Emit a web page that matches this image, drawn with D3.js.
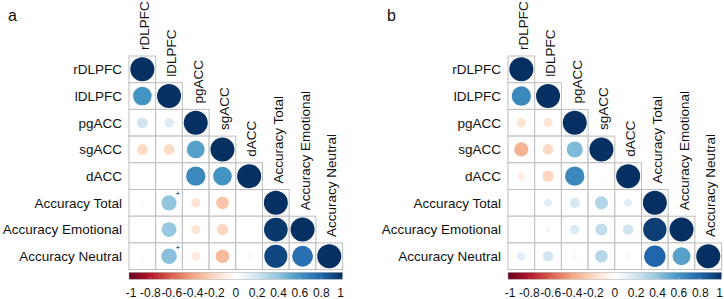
<!DOCTYPE html>
<html>
<head>
<meta charset="utf-8">
<script src="https://cdn.jsdelivr.net/npm/d3@7"></script>
<style>
  body { margin: 0; background: #fff; }
  svg { display: block; font-family: "Liberation Sans", Arial, sans-serif; }
</style>
</head>
<body>
<div id="chart"></div>
<script>
const variables = ["rDLPFC", "lDLPFC", "pgACC", "sgACC", "dACC", "Accuracy Total", "Accuracy Emotional", "Accuracy Neutral"];

// lower triangle, row by row (diagonal included)
const corrA = [
  [1],
  [0.6, 1],
  [0.2, 0.15, 1],
  [-0.2, -0.2, 0.55, 1],
  [0.02, 0.02, 0.65, 0.6, 1],
  [0.03, 0.4, -0.15, -0.28, 0.02, 1],
  [0.02, 0.38, -0.15, -0.22, 0, 0.97, 1],
  [0.03, 0.42, -0.13, -0.32, -0.04, 0.92, 0.75, 1]
];
const corrB = [
  [1],
  [0.65, 1],
  [-0.15, -0.15, 1],
  [-0.35, -0.2, 0.45, 1],
  [-0.1, -0.22, 0.65, 0.03, 1],
  [0.01, 0.12, 0.18, 0.3, 0.12, 1],
  [0.01, 0.06, 0.16, 0.25, 0.2, 0.95, 1],
  [0.12, 0.2, 0.05, 0.28, -0.05, 0.8, 0.55, 1]
];
// [row, col] cells flagged with "+"
const marksA = [[5, 1], [7, 1]];
const marksB = [];

const legendTicks = [-1, -0.8, -0.6, -0.4, -0.2, 0, 0.2, 0.4, 0.6, 0.8, 1];
const paletteStops = ["#67001F", "#B2182B", "#D6604D", "#F4A582", "#FDDBC7", "#FFFFFF",
  "#D1E5F0", "#92C5DE", "#4393C3", "#2166AC", "#053061"];

const width = 724;
const height = 299;
const cell = 26.7;
const gridTop = 56;

const color = d3.scaleLinear().domain(legendTicks).range(paletteStops);

const svg = d3.select("#chart").append("svg")
  .attr("width", width)
  .attr("height", height);

const defs = svg.append("defs");
const grad = defs.append("linearGradient").attr("id", "corr-grad");
legendTicks.forEach((t, i) => {
  grad.append("stop")
    .attr("offset", `${i * 10}%`)
    .attr("stop-color", paletteStops[i]);
});

function drawPanel(label, gridLeft, corr, marks) {
  const size = variables.length * cell;
  const g = svg.append("g").attr("transform", `translate(${gridLeft},${gridTop})`);

  const x = d3.scaleBand().domain(variables).range([0, size]);
  const y = d3.scaleBand().domain(variables).range([0, size]);
  const r = d3.scaleSqrt().domain([0, 1]).range([0, cell * 0.45]);

  const cells = [];
  corr.forEach((row, i) => {
    row.forEach((value, j) => {
      cells.push({ row: variables[i], col: variables[j], value });
    });
  });

  svg.append("text")
    .attr("x", gridLeft - 121)
    .attr("y", 21)
    .attr("font-size", 16)
    .attr("fill", "#111")
    .text(label);

  g.selectAll("rect.cell")
    .data(cells)
    .join("rect")
    .attr("class", "cell")
    .attr("x", (d) => x(d.col))
    .attr("y", (d) => y(d.row))
    .attr("width", x.bandwidth())
    .attr("height", y.bandwidth())
    .attr("fill", "#fff")
    .attr("stroke", "#bdbdbd")
    .attr("stroke-width", 1);

  g.selectAll("circle.corr")
    .data(cells)
    .join("circle")
    .attr("class", "corr")
    .attr("cx", (d) => x(d.col) + x.bandwidth() / 2)
    .attr("cy", (d) => y(d.row) + y.bandwidth() / 2)
    .attr("r", (d) => r(Math.abs(d.value)))
    .attr("fill", (d) => color(d.value));

  g.selectAll("text.mark")
    .data(marks)
    .join("text")
    .attr("class", "mark")
    .attr("x", (d) => x(variables[d[1]]) + x.bandwidth() / 2 + 8.7)
    .attr("y", (d) => y(variables[d[0]]) + y.bandwidth() / 2 - 6.7)
    .attr("text-anchor", "middle")
    .attr("font-size", 8)
    .attr("fill", "#111")
    .text("+");

  // row labels
  g.selectAll("text.row-label")
    .data(variables)
    .join("text")
    .attr("class", "row-label")
    .attr("x", -7)
    .attr("y", (d) => y(d) + y.bandwidth() / 2)
    .attr("dy", "0.36em")
    .attr("text-anchor", "end")
    .attr("font-size", 13.5)
    .attr("fill", "#111")
    .text((d) => d);

  // column labels sit above each diagonal cell
  g.selectAll("text.col-label")
    .data(variables)
    .join("text")
    .attr("class", "col-label")
    .attr("transform", (d) => `translate(${x(d) + x.bandwidth() / 2 + 7},${y(d) - 6}) rotate(-90)`)
    .attr("text-anchor", "start")
    .attr("font-size", 13.5)
    .attr("fill", "#111")
    .text((d) => d);

  // colour legend
  const barTop = 216.3;
  const legendX = d3.scaleLinear().domain([-1, 1]).range([0, size]);
  g.append("rect")
    .attr("x", 0)
    .attr("y", barTop)
    .attr("width", size)
    .attr("height", 7)
    .attr("fill", "url(#corr-grad)")
    .attr("stroke", "#aaa")
    .attr("stroke-width", 0.5);

  g.selectAll("line.legend-tick")
    .data(legendTicks)
    .join("line")
    .attr("class", "legend-tick")
    .attr("x1", (d) => legendX(d))
    .attr("x2", (d) => legendX(d))
    .attr("y1", barTop + 5)
    .attr("y2", barTop + 7)
    .attr("stroke", "#fff")
    .attr("stroke-opacity", 0.6)
    .attr("stroke-width", 0.6);

  g.selectAll("text.legend-label")
    .data(legendTicks)
    .join("text")
    .attr("class", "legend-label")
    .attr("x", (d) => legendX(d) + (d === -1 ? 2 : d === 1 ? -2 : 0))
    .attr("y", barTop + 24.5)
    .attr("text-anchor", "middle")
    .attr("font-size", 12)
    .attr("fill", "#111")
    .text((d) => d);
}

drawPanel("a", 129, corrA, marksA);
drawPanel("b", 508, corrB, marksB);
</script>
</body>
</html>
